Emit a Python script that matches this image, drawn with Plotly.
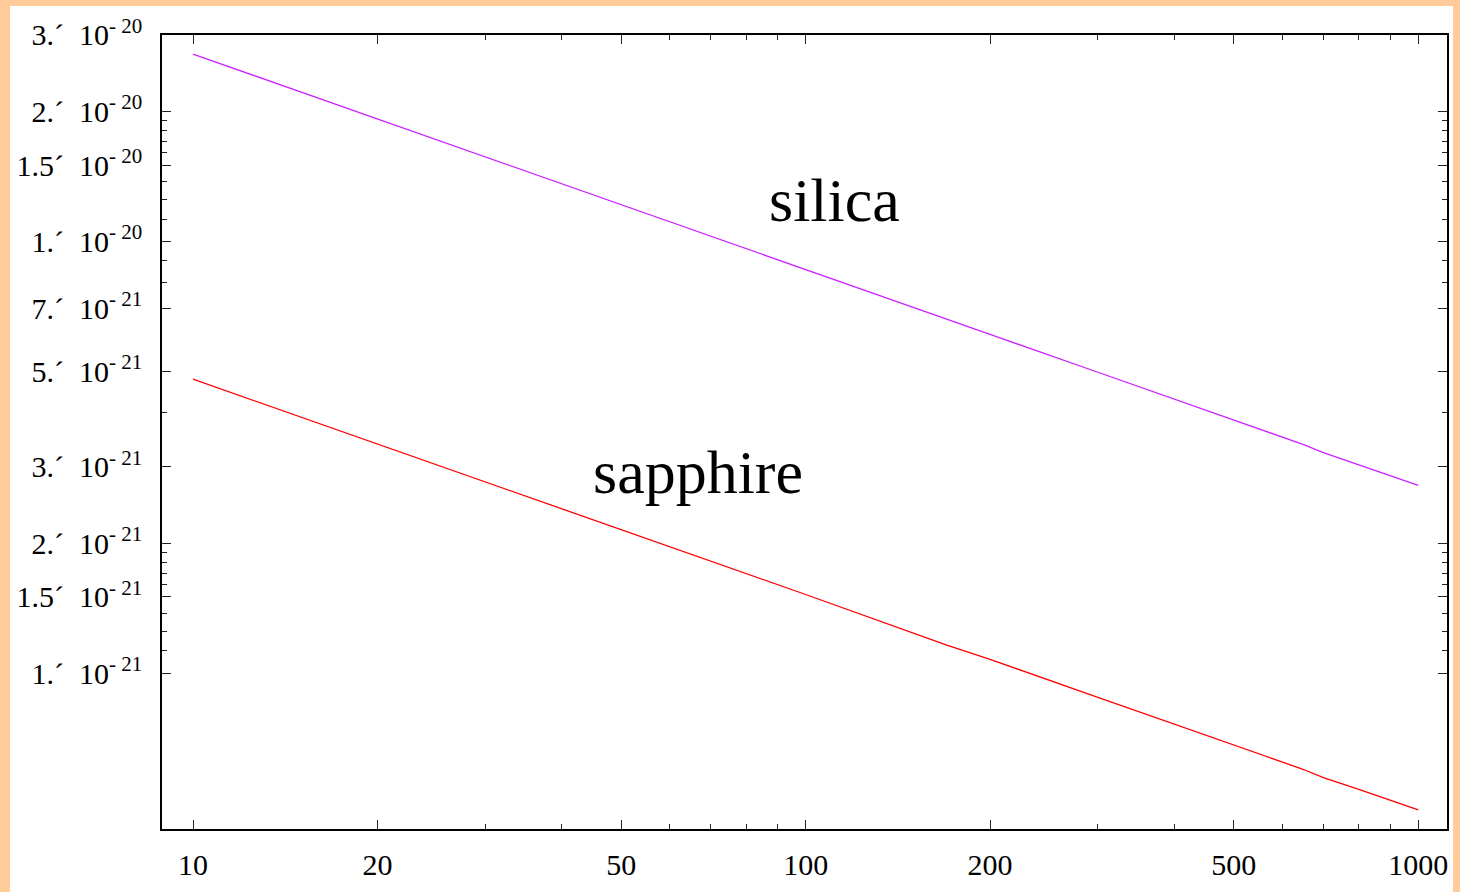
import plotly.graph_objects as go

# Data
freq = [10, 20, 50, 100, 170, 200, 300, 400, 450, 500, 650, 700, 800, 1000]
silica = [2.71e-20, 1.917e-20, 1.214e-20, 8.59e-21, 6.57e-21, 6.08e-21, 4.97e-21,
          4.30e-21, 4.06e-21, 3.85e-21, 3.38e-21, 3.24e-21, 3.03e-21, 2.72e-21]
sapphire = [4.79e-21, 3.39e-21, 2.15e-21, 1.52e-21, 1.16e-21, 1.076e-21, 8.78e-22,
            7.61e-22, 7.18e-22, 6.81e-22, 5.98e-22, 5.73e-22, 5.38e-22, 4.82e-22]

x_tickvals = [10, 20, 50, 100, 200, 500, 1000]
x_ticktext = ["10", "20", "50", "100", "200", "500", "1000"]
x_minor = [30, 40, 60, 70, 80, 90, 300, 400, 600, 700, 800, 900]

y_tickvals = [1e-21, 1.5e-21, 2e-21, 3e-21, 5e-21, 7e-21, 1e-20, 1.5e-20, 2e-20, 3e-20]
y_mant = ["1.", "1.5", "2.", "3.", "5.", "7.", "1.", "1.5", "2.", "3."]
y_exp = ["21", "21", "21", "21", "21", "21", "20", "20", "20", "20"]
y_ticktext = [f"{m}´&nbsp;&nbsp;10<sup>-&nbsp;{e}</sup>" for m, e in zip(y_mant, y_exp)]
y_minor = [1.125e-21, 1.25e-21, 1.375e-21, 1.6e-21, 1.7e-21, 1.8e-21, 1.9e-21,
           4e-21, 8e-21, 9e-21,
           1.125e-20, 1.25e-20, 1.375e-20, 1.6e-20, 1.7e-20, 1.8e-20, 1.9e-20]

labels = ["silica", "sapphire"]

FONT = "Liberation Serif, Times New Roman, serif"

fig = go.Figure()
fig.add_trace(go.Scatter(x=freq, y=silica, mode="lines", name=labels[0],
                         line=dict(color="rgb(204,34,255)", width=1.3), showlegend=False))
fig.add_trace(go.Scatter(x=freq, y=sapphire, mode="lines", name=labels[1],
                         line=dict(color="rgb(255,0,0)", width=1.3), showlegend=False))

L, R, T, B = 162, 13, 35, 63
W, H = 1460, 892
pw, ph = W - L - R, H - T - B

def px_to_paper_x(px):
    return (px - L) / pw

def px_to_paper_y(py):
    return (H - B - py) / ph

# white page area inside the peach border
fig.add_shape(type="rect", xref="paper", yref="paper", layer="below",
              x0=px_to_paper_x(10), x1=px_to_paper_x(1453),
              y0=px_to_paper_y(H + 5), y1=px_to_paper_y(6),
              fillcolor="white", line=dict(width=0))

fig.add_annotation(text=labels[0], xref="paper", yref="paper",
                   x=px_to_paper_x(834), y=px_to_paper_y(200), showarrow=False,
                   xanchor="center", yanchor="middle",
                   font=dict(family=FONT, size=62, color="black"))
fig.add_annotation(text=labels[1], xref="paper", yref="paper",
                   x=px_to_paper_x(698), y=px_to_paper_y(472), showarrow=False,
                   xanchor="center", yanchor="middle",
                   font=dict(family=FONT, size=62, color="black"))

fig.update_xaxes(type="log", range=[0.9494, 3.0469], automargin=False,
                 tickmode="array", tickvals=x_tickvals, ticktext=x_ticktext,
                 ticks="inside", ticklen=9, tickwidth=1.2, tickcolor="#222",
                 minor=dict(tickvals=x_minor, ticks="inside", ticklen=5, tickwidth=1.2, tickcolor="#222"),
                 showline=True, linecolor="black", linewidth=1.5, mirror="ticks",
                 showgrid=False, zeroline=False,
                 tickfont=dict(family=FONT, size=30, color="black"),
                 ticklabelstandoff=8)
fig.update_yaxes(type="log", range=[-21.361, -19.5229], automargin=False,
                 tickmode="array", tickvals=y_tickvals, ticktext=y_ticktext,
                 ticks="inside", ticklen=9, tickwidth=1.2, tickcolor="#222",
                 minor=dict(tickvals=y_minor, ticks="inside", ticklen=5, tickwidth=1.2, tickcolor="#222"),
                 showline=True, linecolor="black", linewidth=1.5, mirror="ticks",
                 showgrid=False, zeroline=False,
                 tickfont=dict(family=FONT, size=30, color="black"),
                 ticklabelstandoff=12)

fig.update_layout(width=W, height=H, autosize=False,
                  margin=dict(l=L, r=R, t=T, b=B, pad=0),
                  paper_bgcolor="rgb(255,204,153)", plot_bgcolor="white",
                  font=dict(family=FONT, color="black"))

fig.write_html("out.html", config={"displayModeBar": False},
               post_script="document.body.style.margin='0px';")
